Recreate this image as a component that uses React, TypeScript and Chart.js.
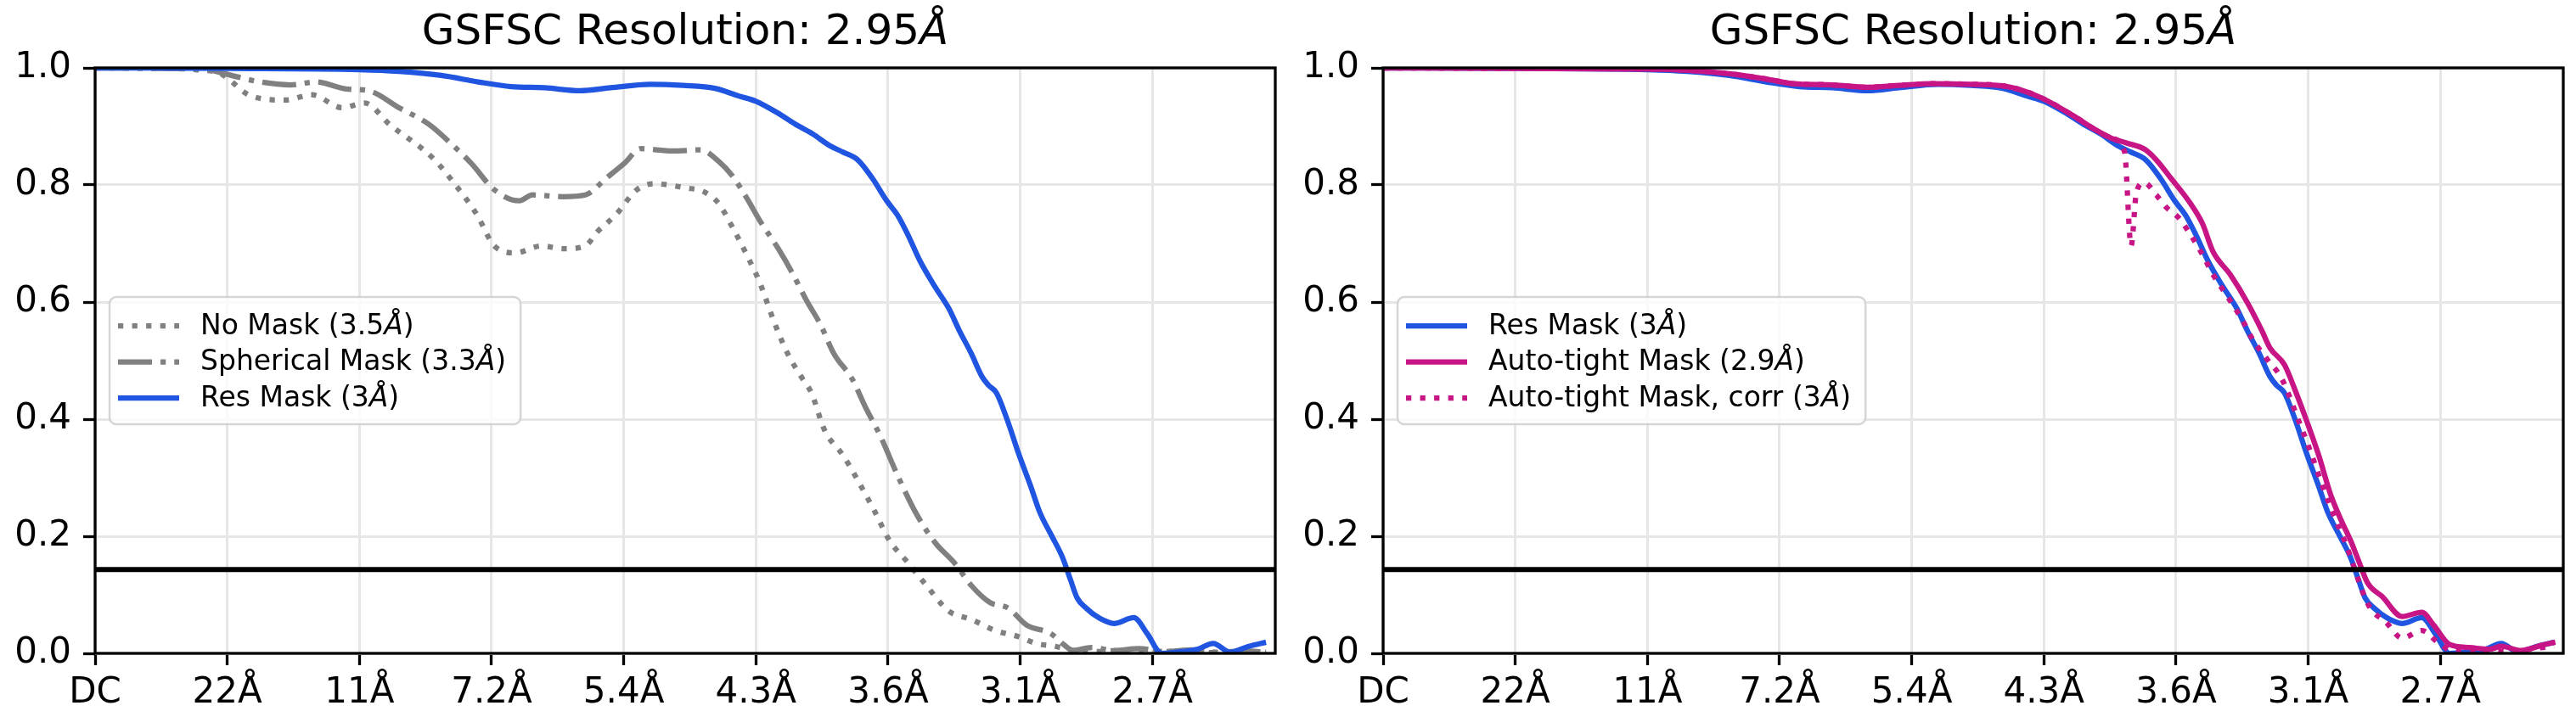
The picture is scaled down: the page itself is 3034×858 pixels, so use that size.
import React, { useEffect, useRef } from 'react';
import { Chart, registerables } from 'chart.js';

Chart.register(...registerables);
Chart.defaults.font.family = '"DejaVu Sans"';
Chart.defaults.color = '#000';

// x is measured in tick steps (one step = 1/21.6 per Å), so tick k sits at x = k
const xTickLabels = ['DC', '22Å', '11Å', '7.2Å', '5.4Å', '4.3Å', '3.6Å', '3.1Å', '2.7Å'];
const xLimit = 8.93;
const fscCutoff = 0.143;
const chartTitle = 'GSFSC Resolution: 2.95Å';

const noMaskX = [0, 0.5, 0.76, 0.95, 1.18, 1.44, 1.64, 1.87, 2.04, 2.23, 2.56, 2.72, 2.89, 3.02, 3.18, 3.38, 3.54, 3.71, 3.8, 3.94, 4.1, 4.23, 4.47, 4.61, 4.72, 4.82, 4.93, 5.03, 5.14, 5.24, 5.35, 5.42, 5.52, 5.66, 5.76, 5.9, 6.01, 6.15, 6.29, 6.46, 6.63, 6.81, 6.98, 7.12, 7.26, 7.4, 7.6, 7.8, 8.0, 8.2, 8.4, 8.6, 8.86];
const noMaskY = [1.0, 0.999, 0.997, 0.99, 0.952, 0.945, 0.954, 0.932, 0.94, 0.903, 0.845, 0.802, 0.749, 0.696, 0.684, 0.696, 0.691, 0.696, 0.72, 0.749, 0.792, 0.802, 0.795, 0.788, 0.768, 0.729, 0.681, 0.633, 0.565, 0.512, 0.47, 0.445, 0.381, 0.338, 0.3, 0.242, 0.193, 0.155, 0.116, 0.072, 0.058, 0.039, 0.029, 0.017, 0.012, 0.005, 0.003, 0.006, 0.002, 0.004, 0.001, 0.003, 0.002];

const sphericalX = [0, 0.5, 0.85, 0.98, 1.25, 1.48, 1.67, 1.9, 2.07, 2.3, 2.53, 2.72, 2.85, 3.02, 3.21, 3.31, 3.54, 3.71, 3.87, 4.0, 4.13, 4.37, 4.58, 4.72, 4.82, 4.93, 5.03, 5.17, 5.28, 5.38, 5.49, 5.59, 5.73, 5.83, 5.94, 6.08, 6.22, 6.36, 6.5, 6.63, 6.77, 6.91, 7.05, 7.23, 7.33, 7.4, 7.54, 7.71, 7.9, 8.1, 8.3, 8.5, 8.7, 8.86];
const sphericalY = [1.0, 0.999, 0.997, 0.99, 0.976, 0.971, 0.976, 0.964, 0.961, 0.932, 0.903, 0.865, 0.836, 0.792, 0.773, 0.783, 0.78, 0.783, 0.812, 0.836, 0.862, 0.858, 0.86, 0.84, 0.816, 0.778, 0.739, 0.691, 0.648, 0.604, 0.561, 0.512, 0.468, 0.42, 0.372, 0.3, 0.236, 0.188, 0.155, 0.116, 0.087, 0.077, 0.048, 0.034, 0.015, 0.005, 0.01, 0.005, 0.008, 0.003, 0.006, 0.002, 0.004, 0.002];

const resMaskX = [0, 1.0, 2.0, 2.3, 2.62, 2.9, 3.15, 3.4, 3.67, 3.9, 4.2, 4.45, 4.69, 4.87, 5.0, 5.15, 5.32, 5.43, 5.56, 5.66, 5.77, 5.88, 5.99, 6.07, 6.15, 6.24, 6.35, 6.46, 6.54, 6.63, 6.71, 6.76, 6.82, 6.9, 6.99, 7.08, 7.15, 7.24, 7.32, 7.38, 7.43, 7.5, 7.6, 7.71, 7.86, 7.96, 8.07, 8.22, 8.34, 8.46, 8.59, 8.73, 8.86];
const resMaskY = [1.0, 0.999, 0.997, 0.994, 0.987, 0.976, 0.968, 0.966, 0.961, 0.966, 0.972, 0.97, 0.965, 0.952, 0.943, 0.925, 0.901, 0.887, 0.867, 0.856, 0.843, 0.812, 0.773, 0.749, 0.715, 0.671, 0.628, 0.589, 0.551, 0.512, 0.473, 0.458, 0.445, 0.4, 0.34, 0.285, 0.24, 0.2, 0.164, 0.126, 0.095, 0.077, 0.06, 0.051, 0.061, 0.034, 0.0, 0.003, 0.007, 0.017, 0.002, 0.012, 0.019];

const autoTightX = [0, 1.0, 2.0, 2.3, 2.62, 2.9, 3.1, 3.4, 3.66, 3.9, 4.16, 4.45, 4.7, 4.97, 5.21, 5.4, 5.51, 5.62, 5.77, 5.85, 5.96, 6.11, 6.2, 6.28, 6.41, 6.54, 6.65, 6.71, 6.82, 6.9, 6.99, 7.08, 7.17, 7.24, 7.32, 7.38, 7.45, 7.56, 7.71, 7.86, 7.95, 8.07, 8.22, 8.37, 8.46, 8.61, 8.77, 8.87];
const autoTightY = [1.0, 0.999, 0.998, 0.996, 0.99, 0.981, 0.973, 0.971, 0.967, 0.97, 0.973, 0.972, 0.969, 0.95, 0.92, 0.893, 0.88, 0.872, 0.86, 0.843, 0.812, 0.768, 0.734, 0.686, 0.647, 0.599, 0.551, 0.522, 0.493, 0.45, 0.396, 0.338, 0.271, 0.232, 0.193, 0.159, 0.12, 0.097, 0.063, 0.07, 0.048, 0.015, 0.01, 0.007, 0.012, 0.005, 0.014, 0.019];

const autoCorrX = [0, 1.0, 2.0, 2.3, 2.62, 2.9, 3.1, 3.4, 3.66, 3.9, 4.16, 4.45, 4.7, 4.97, 5.21, 5.4, 5.51, 5.61, 5.66, 5.7, 5.76, 5.85, 5.93, 6.02, 6.11, 6.2, 6.28, 6.39, 6.5, 6.58, 6.69, 6.8, 6.93, 7.02, 7.11, 7.2, 7.29, 7.35, 7.41, 7.47, 7.59, 7.71, 7.86, 7.98, 8.1, 8.25, 8.4, 8.55, 8.7, 8.86];
const autoCorrY = [1.0, 0.999, 0.998, 0.996, 0.99, 0.981, 0.973, 0.971, 0.967, 0.97, 0.973, 0.972, 0.969, 0.95, 0.92, 0.893, 0.88, 0.857, 0.696, 0.787, 0.804, 0.783, 0.761, 0.744, 0.715, 0.681, 0.647, 0.609, 0.57, 0.536, 0.502, 0.469, 0.396, 0.343, 0.285, 0.232, 0.184, 0.145, 0.106, 0.077, 0.053, 0.026, 0.039, 0.019, 0.004, 0.006, 0.004, 0.002, 0.008, 0.012];

const GRAY = '#808080';
const BLUE = '#1f55e0';
const MAGENTA = '#c71585';
const LINE_W = 6.25;

type Series = { label: string; xs: number[]; ys: number[]; color: string; dash?: number[] };

const dotted = [LINE_W, LINE_W * 1.65];
const dashDot = [LINE_W * 6.4, LINE_W * 1.6, LINE_W, LINE_W * 1.6];

const leftSeries: Series[] = [
  { label: 'No Mask (3.5Å)', xs: noMaskX, ys: noMaskY, color: GRAY, dash: dotted },
  { label: 'Spherical Mask (3.3Å)', xs: sphericalX, ys: sphericalY, color: GRAY, dash: dashDot },
  { label: 'Res Mask (3Å)', xs: resMaskX, ys: resMaskY, color: BLUE },
];

const rightSeries: Series[] = [
  { label: 'Res Mask (3Å)', xs: resMaskX, ys: resMaskY, color: BLUE },
  { label: 'Auto-tight Mask (2.9Å)', xs: autoTightX, ys: autoTightY, color: MAGENTA },
  { label: 'Auto-tight Mask, corr (3Å)', xs: autoCorrX, ys: autoCorrY, color: MAGENTA, dash: dotted },
];

// text with the Å drawn in italic, like matplotlib mathtext
function mixedText(ctx: CanvasRenderingContext2D, text: string, x: number, y: number, size: number, draw: boolean) {
  const parts = text.split('Å');
  let cx = x;
  parts.forEach((p, i) => {
    ctx.font = `${size}px "DejaVu Sans"`;
    if (draw) ctx.fillText(p, cx, y);
    cx += ctx.measureText(p).width;
    if (i < parts.length - 1) {
      ctx.font = `italic ${size}px "DejaVu Sans"`;
      if (draw) ctx.fillText('Å', cx, y);
      cx += ctx.measureText('Å').width;
    }
  });
  return cx - x;
}

const axesTitle = {
  id: 'axesTitle',
  afterDraw(chart: any) {
    const { ctx, chartArea } = chart;
    ctx.save();
    ctx.fillStyle = '#000';
    ctx.textBaseline = 'alphabetic';
    const w = mixedText(ctx, chartTitle, 0, 0, 50, false);
    const cx = (chartArea.left + chartArea.right) / 2;
    mixedText(ctx, chartTitle, cx - w / 2, chartArea.top - 28, 50, true);
    ctx.restore();
  },
};

const insetLegend = {
  id: 'insetLegend',
  afterDraw(chart: any) {
    const items: Series[] = chart.options.plugins.insetLegend.items;
    const { ctx, chartArea } = chart;
    const fs = 33;
    const x0 = chartArea.left + 17;
    const y0 = chartArea.top + 270;
    ctx.save();
    const maxW = Math.max(...items.map((it) => mixedText(ctx, it.label, 0, 0, fs, false)));
    const w = 107 + maxW + 17;
    const h = 150;
    ctx.beginPath();
    ctx.roundRect(x0, y0, w, h, 8);
    ctx.fillStyle = 'rgba(255,255,255,0.8)';
    ctx.fill();
    ctx.lineWidth = 2.5;
    ctx.strokeStyle = 'rgba(204,204,204,0.8)';
    ctx.stroke();
    items.forEach((it, i) => {
      const cy = y0 + 32 + i * 42.5;
      ctx.beginPath();
      ctx.strokeStyle = it.color;
      ctx.lineWidth = LINE_W;
      ctx.lineCap = 'butt';
      ctx.setLineDash(it.dash ?? []);
      ctx.moveTo(x0 + 10, cy + 2);
      ctx.lineTo(x0 + 82, cy + 2);
      ctx.stroke();
      ctx.setLineDash([]);
      ctx.fillStyle = '#000';
      ctx.textBaseline = 'alphabetic';
      mixedText(ctx, it.label, x0 + 107, cy + 0.36 * fs, fs, true);
    });
    ctx.restore();
  },
};

const spines = {
  id: 'spines',
  afterDatasetsDraw(chart: any) {
    const { ctx, chartArea } = chart;
    ctx.save();
    ctx.strokeStyle = '#000';
    ctx.lineWidth = 3.3;
    ctx.strokeRect(chartArea.left, chartArea.top, chartArea.right - chartArea.left, chartArea.bottom - chartArea.top);
    ctx.restore();
  },
};

const FscPanel = ({ series, left }: { series: Series[]; left: number }) => {
  const canvasRef = useRef<HTMLCanvasElement>(null);

  useEffect(() => {
    const curves = series.map((s, i) => ({
      label: s.label,
      data: s.xs.map((x, k) => ({ x, y: s.ys[k] })),
      borderColor: s.color,
      borderWidth: LINE_W,
      borderDash: s.dash ?? [],
      borderCapStyle: 'butt',
      borderJoinStyle: 'round',
      pointRadius: 0,
      cubicInterpolationMode: 'monotone',
      fill: false,
      order: series.length - i,
    }));
    const cutoff = {
      label: '',
      data: [{ x: 0, y: fscCutoff }, { x: xLimit, y: fscCutoff }],
      borderColor: '#000',
      borderWidth: 6,
      pointRadius: 0,
      fill: false,
      order: 0,
    };

    const chart = new Chart(canvasRef.current as HTMLCanvasElement, {
      type: 'line',
      data: { datasets: [...curves, cutoff] as any },
      plugins: [spines, axesTitle, insetLegend],
      options: {
        animation: false,
        responsive: false,
        devicePixelRatio: 1,
        layout: { padding: { left: 0, right: 15, top: 80, bottom: 0 } },
        plugins: {
          legend: { display: false },
          tooltip: { enabled: false },
          title: { display: false },
          insetLegend: { items: series },
        } as any,
        scales: {
          x: {
            type: 'linear',
            min: 0,
            max: xLimit,
            afterFit: (s: any) => { s.height = 88; },
            border: { display: false },
            grid: { color: '#e6e6e6', lineWidth: 3, tickColor: '#000', tickLength: 14, tickWidth: 3.3 },
            ticks: {
              stepSize: 1,
              includeBounds: false,
              autoSkip: false,
              maxRotation: 0,
              padding: 8,
              color: '#000',
              font: { size: 42 },
              callback: (v: any) => xTickLabels[Math.round(Number(v))] ?? '',
            },
          },
          y: {
            min: 0,
            max: 1,
            afterFit: (s: any) => { s.width = 112; },
            border: { display: false },
            grid: { color: '#e6e6e6', lineWidth: 3, tickColor: '#000', tickLength: 14, tickWidth: 3.3 },
            ticks: {
              stepSize: 0.2,
              padding: 14,
              color: '#000',
              font: { size: 42 },
              callback: (v: any) => Number(v).toFixed(1),
            },
          },
        },
      } as any,
    });

    return () => {
      chart.destroy();
    };
  }, [series]);

  return (
    <canvas
      ref={canvasRef}
      width={1517}
      height={858}
      style={{ position: 'absolute', left, top: 0, width: 1517, height: 858 }}
    />
  );
};

const App = () => (
  <div style={{ position: 'absolute', left: 0, top: 0, width: 3034, height: 858, background: '#fff' }}>
    <FscPanel series={leftSeries} left={0} />
    <FscPanel series={rightSeries} left={1517} />
  </div>
);

export default App;
